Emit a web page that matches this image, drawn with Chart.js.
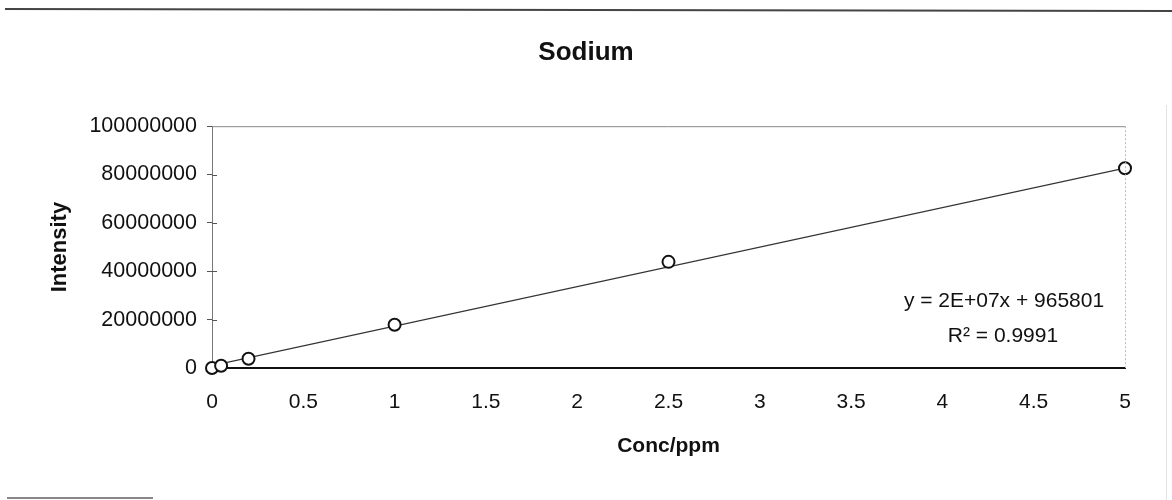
<!DOCTYPE html>
<html><head><meta charset="utf-8">
<script src="https://cdn.jsdelivr.net/npm/chart.js@4.4.1/dist/chart.umd.min.js"></script>
<style>html,body{margin:0;padding:0;background:#fff;}#wrap{width:1172px;height:500px;position:relative;}</style>
</head><body><div id="wrap"><canvas id="c" width="1172" height="500"></canvas></div>
<script>
const concentrations = [0, 0.05, 0.2, 1, 2.5, 5];
const intensities = [0, 950000, 3840000, 17900000, 43900000, 82600000];
const trendConc = [0, 5];
const trendIntensity = [965801, 82700000];
const chartTitle = 'Sodium';
const xTitle = 'Conc/ppm';
const yTitle = 'Intensity';
const equationLines = ['y = 2E+07x + 965801', 'R\u00B2 = 0.9991'];
const xTickStep = 0.5;
const yTickStep = 20000000;

const FONT = '"Liberation Sans", Arial, Helvetica, sans-serif';

const points = concentrations.map((c, i) => ({x: c, y: intensities[i]}));
const trend = trendConc.map((c, i) => ({x: c, y: trendIntensity[i]}));

const decor = {
  id: 'decor',
  afterDraw(chart) {
    const {ctx, chartArea: a, scales} = chart;
    ctx.save();
    // top border of plot area
    ctx.strokeStyle = '#888'; ctx.lineWidth = 1;
    ctx.beginPath(); ctx.moveTo(a.left, a.top + 0.5); ctx.lineTo(a.right, a.top + 0.5); ctx.stroke();
    // right border dotted
    ctx.strokeStyle = '#bbb'; ctx.setLineDash([2, 2]);
    ctx.beginPath(); ctx.moveTo(a.right + 0.5, a.top); ctx.lineTo(a.right + 0.5, a.bottom); ctx.stroke();
    ctx.setLineDash([]);
    // inner part of y tick marks
    ctx.strokeStyle = '#555'; ctx.lineWidth = 1;
    scales.y.ticks.forEach(t => {
      const py = Math.round(scales.y.getPixelForValue(t.value)) + 0.5;
      if (t.value === 0 || t.value === scales.y.max) return;
      ctx.beginPath(); ctx.moveTo(a.left, py); ctx.lineTo(a.left + 5, py); ctx.stroke();
    });
    // equation text
    ctx.fillStyle = '#111';
    ctx.font = '21px ' + FONT;
    ctx.textAlign = 'center'; ctx.textBaseline = 'middle';
    ctx.fillText(equationLines[0], a.right - 121, a.top + 175);
    ctx.fillText(equationLines[1], a.right - 122, a.top + 210);
    // page scan decorations
    ctx.strokeStyle = '#444'; ctx.lineWidth = 2;
    ctx.beginPath(); ctx.moveTo(5, 9); ctx.lineTo(1172, 11); ctx.stroke();
    ctx.strokeStyle = '#888';
    ctx.beginPath(); ctx.moveTo(7, 498); ctx.lineTo(153, 498); ctx.stroke();
    ctx.strokeStyle = '#e2e2e2'; ctx.lineWidth = 1;
    ctx.beginPath(); ctx.moveTo(1166.5, 105); ctx.lineTo(1166.5, 500); ctx.stroke();
    ctx.restore();
  }
};

new Chart(document.getElementById('c'), {
  type: 'scatter',
  data: {
    datasets: [
      {
        label: 'Sodium',
        data: points,
        showLine: false,
        pointStyle: 'circle',
        pointRadius: 6,
        pointHoverRadius: 6,
        borderWidth: 2,
        borderColor: '#111',
        backgroundColor: '#fff',
        clip: false,
        order: 0
      },
      {
        label: 'Linear fit',
        data: trend,
        showLine: true,
        pointRadius: 0,
        borderColor: '#333',
        borderWidth: 1.3,
        fill: false,
        order: 1
      }
    ]
  },
  options: {
    responsive: false,
    devicePixelRatio: 1,
    animation: false,
    layout: {padding: {top: 0, right: 47, bottom: 0, left: 47}},
    plugins: {
      legend: {display: false},
      tooltip: {enabled: false},
      title: {
        display: true, text: chartTitle, color: '#111',
        font: {family: FONT, size: 26, weight: 'bold'},
        padding: {top: 37, bottom: 58}
      }
    },
    scales: {
      x: {
        type: 'linear', position: 'bottom', min: 0, max: 5,
        ticks: {stepSize: xTickStep, callback: v => String(v), color: '#111',
          font: {family: FONT, size: 21}, padding: 22, maxRotation: 0, autoSkip: false},
        grid: {display: true, drawOnChartArea: false, drawTicks: false},
        border: {display: true, color: '#111', width: 2},
        title: {display: true, text: xTitle, color: '#111',
          font: {family: FONT, size: 21, weight: 'bold'}, padding: {top: 0, bottom: 41}},
        afterFit(s) { s.height = 132; }
      },
      y: {
        type: 'linear', position: 'left', min: 0, max: 100000000,
        ticks: {stepSize: yTickStep, callback: v => String(v), color: '#111',
          font: {family: FONT, size: 21.5}, padding: 10},
        grid: {display: true, drawOnChartArea: false, drawTicks: true, tickLength: 5, tickColor: '#555'},
        border: {display: true, color: '#777', width: 1},
        title: {display: true, text: yTitle, color: '#111',
          font: {family: FONT, size: 22, weight: 'bold'}, padding: {top: 0, bottom: 0}},
        afterFit(s) { s.width = 165; }
      }
    }
  },
  plugins: [decor]
});
</script>
</body></html>
